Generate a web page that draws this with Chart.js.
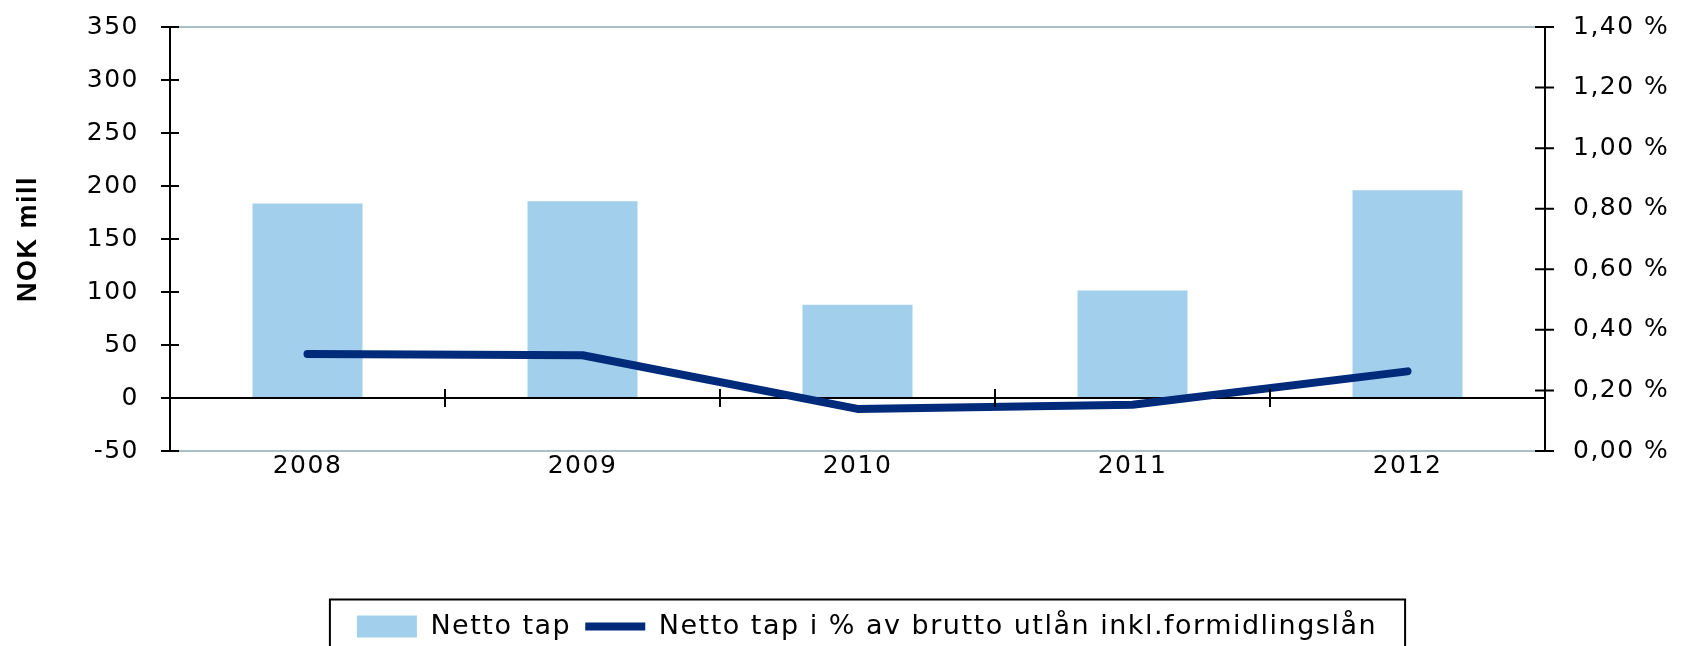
<!DOCTYPE html>
<html lang="no">
<head>
  <meta charset="UTF-8" />
  <title>Netto tap</title>
  <script src="https://cdn.jsdelivr.net/npm/chart.js"></script>
  <style>
    body {
      margin: 0;
      background: #ffffff;
    }
    #wrap {
      width: 1682px;
      height: 646px;
      position: relative;
    }
  </style>
</head>
<body>
  <div id="wrap">
    <canvas id="lossChart"></canvas>
  </div>

  <script>
    // data
    const years = ['2008', '2009', '2010', '2011', '2012'];
    const nettoTap = [183.5, 185.5, 88, 101.5, 196];          // NOK mill
    const nettoTapPct = [0.32, 0.316, 0.139, 0.153, 0.263];   // % av brutto utlån
    const leftTicks = { min: -50, max: 350, step: 50 };
    const rightTicks = { min: 0, max: 1.4, step: 0.2 };

    const barColor = '#a2cfeb';
    const lineColor = '#002a7a';
    const edgeColor = '#a9c0c9';
    const spacing = '1.5px';

    Chart.defaults.font.family = "'DejaVu Sans', sans-serif";
    Chart.defaults.font.size = 25;
    Chart.defaults.color = '#000';

    // a little tracking, like the reference text
    const tracking = {
      id: 'tracking',
      beforeUpdate(chart) { chart.ctx.letterSpacing = spacing; },
      beforeDraw(chart) { chart.ctx.letterSpacing = spacing; }
    };

    // cross ticks on both value axes and on the zero line, plus the legend frame
    const axisDecor = {
      id: 'axisDecor',
      afterDraw(chart) {
        const ctx = chart.ctx;
        const { x, y, y1 } = chart.scales;
        const area = chart.chartArea;
        ctx.save();
        ctx.strokeStyle = '#000';
        ctx.lineWidth = 2;
        ctx.beginPath();
        y.ticks.forEach(t => {
          const py = y.getPixelForValue(t.value);
          ctx.moveTo(area.left - 9, py);
          ctx.lineTo(area.left + 9, py);
        });
        y1.ticks.forEach(t => {
          const py = y1.getPixelForValue(t.value);
          ctx.moveTo(area.right - 10, py);
          ctx.lineTo(area.right + 9, py);
        });
        const zeroY = y.getPixelForValue(0);
        for (let i = 1; i < years.length; i++) {
          const px = (x.getPixelForValue(i - 1) + x.getPixelForValue(i)) / 2;
          ctx.moveTo(px, zeroY - 9);
          ctx.lineTo(px, zeroY + 9);
        }
        ctx.stroke();

        const hb = chart.legend.legendHitBoxes;
        if (hb && hb.length) {
          const first = hb[0];
          const last = hb[hb.length - 1];
          const cy = first.top + first.height / 2;
          const left = first.left - 27;
          const right = last.left + last.width + 28;
          ctx.strokeRect(left, cy - 27, right - left, 100);
        }
        ctx.restore();
      }
    };

    new Chart(document.getElementById('lossChart'), {
      data: {
        labels: years,
        datasets: [
          {
            type: 'bar',
            label: 'Netto tap',
            data: nettoTap,
            backgroundColor: barColor,
            borderWidth: 0,
            categoryPercentage: 1,
            barPercentage: 0.4,
            pointStyle: 'rect',
            yAxisID: 'y',
            order: 1
          },
          {
            type: 'line',
            label: 'Netto tap i % av brutto utlån inkl.formidlingslån',
            data: nettoTapPct,
            borderColor: lineColor,
            backgroundColor: lineColor,
            borderWidth: 8,
            borderCapStyle: 'round',
            borderJoinStyle: 'round',
            pointRadius: 0,
            pointStyle: 'line',
            tension: 0,
            yAxisID: 'y1',
            order: 0
          }
        ]
      },
      options: {
        responsive: true,
        maintainAspectRatio: false,
        animation: false,
        layout: { padding: { left: 8, right: -44, top: 27, bottom: -4 } },
        plugins: {
          tooltip: { enabled: false },
          legend: {
            position: 'bottom',
            labels: {
              usePointStyle: true,
              pointStyleWidth: 60,
              boxHeight: 22,
              padding: 14,
              font: { size: 27 },
              sort: (a, b) => a.datasetIndex - b.datasetIndex
            }
          }
        },
        scales: {
          x: {
            grid: { display: false, drawTicks: false },
            border: { display: false },
            ticks: { padding: 3, font: { size: 25, lineHeight: 1 } },
            afterFit: s => { s.height = 148; }
          },
          y: {
            position: 'left',
            min: leftTicks.min,
            max: leftTicks.max,
            ticks: { stepSize: leftTicks.step, padding: 31 },
            grid: {
              drawTicks: false,
              lineWidth: 2,
              color: c => c.tick.value === 0 ? '#000'
                : (c.tick.value === leftTicks.min || c.tick.value === leftTicks.max) ? edgeColor
                : 'rgba(0,0,0,0)'
            },
            border: { display: true, color: '#000', width: 2 },
            title: {
              display: true,
              text: 'NOK mill',
              font: { family: "'Liberation Sans', sans-serif", size: 27, weight: 'bold' }
            },
            afterFit: s => { s.width = 162; s.paddingTop = 0; s.paddingBottom = 0; }
          },
          y1: {
            position: 'right',
            min: rightTicks.min,
            max: rightTicks.max,
            ticks: {
              stepSize: rightTicks.step,
              padding: 28,
              callback: v => v.toFixed(2).replace('.', ',') + ' %'
            },
            grid: { drawOnChartArea: false, drawTicks: false },
            border: { display: true, color: '#000', width: 2 },
            afterFit: s => { s.width = 181; s.paddingTop = 0; s.paddingBottom = 0; }
          }
        }
      },
      plugins: [tracking, axisDecor]
    });
  </script>
</body>
</html>
